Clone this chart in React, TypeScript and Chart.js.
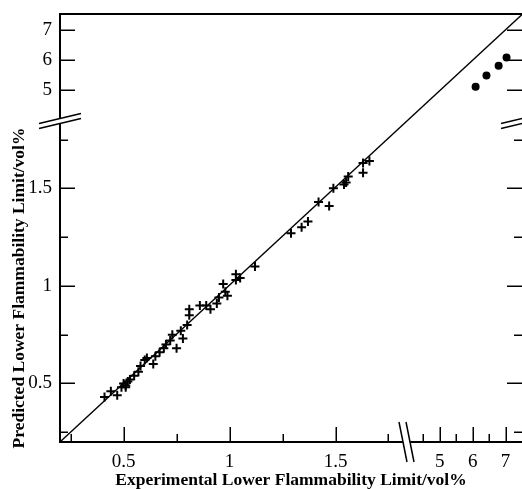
import React, { useEffect, useRef } from 'react';
import { Chart, registerables, LinearScale } from 'chart.js';

Chart.register(...registerables);

// ---- data ----
const expLow = [
  0.41, 0.44, 0.47, 0.5, 0.51, 0.52, 0.49, 0.51, 0.53, 0.55, 0.57, 0.58, 0.6, 0.61,
  0.64, 0.65, 0.67, 0.69, 0.7, 0.72, 0.73, 0.75, 0.77, 0.78, 0.8, 0.81, 0.81, 0.86,
  0.89, 0.91, 0.94, 0.95, 0.99, 0.97, 0.98, 1.03, 1.03, 1.05, 1.12, 1.29, 1.34, 1.37,
  1.42, 1.47, 1.49, 1.54, 1.55, 1.56, 1.63, 1.63, 1.66,
];
const predLow = [
  0.43, 0.46, 0.44, 0.5, 0.48, 0.51, 0.48, 0.49, 0.52, 0.54, 0.56, 0.59, 0.62, 0.63,
  0.6, 0.64, 0.66, 0.68, 0.7, 0.72, 0.75, 0.68, 0.77, 0.73, 0.8, 0.85, 0.88, 0.9,
  0.9, 0.88, 0.91, 0.94, 0.95, 1.01, 0.97, 1.03, 1.06, 1.04, 1.1, 1.27, 1.3, 1.33,
  1.43, 1.41, 1.5, 1.52, 1.53, 1.56, 1.58, 1.63, 1.64,
];
const expHigh = [6.09, 6.42, 6.79, 7.03];
const predHigh = [5.1, 5.47, 5.8, 6.07];
const parityLine = [0.2, 7.5];

const xMajorTicks = [0.5, 1, 1.5, 5, 6, 7];
const xMinorTicks = [0.25, 0.75, 1.25, 1.75, 4.5, 5.5, 6.5];
const yMajorTicks = [0.5, 1, 1.5, 5, 6, 7];
const yMinorTicks = [0.25, 0.75, 1.25, 1.75];

const xTitle = 'Experimental Lower Flammability Limit/vol%';
const yTitle = 'Predicted Lower Flammability Limit/vol%';

// broken-axis segments: [lo, b1] on the first part, [b2, hi] on the second part
const BREAKS: Record<string, { lo: number; b1: number; b2: number; hi: number; split: number }> = {
  x: { lo: 0.2, b1: 1.835, b2: 3.99, hi: 7.5, split: 0.75 },
  y: { lo: 0.2, b1: 1.845, b2: 3.96, hi: 7.52, split: 0.75 },
};

class BrokenScale extends LinearScale {
  static id = 'broken';
  static defaults = LinearScale.defaults;
  getPixelForValue(value: any) {
    const b = BREAKS[(this as any).id];
    if (value === null || value === undefined || isNaN(value)) return NaN;
    let f: number;
    if (value <= b.b1) f = ((value - b.lo) / (b.b1 - b.lo)) * b.split;
    else if (value >= b.b2) f = b.split + ((value - b.b2) / (b.hi - b.b2)) * (1 - b.split);
    else f = b.split;
    return this.getPixelForDecimal(f);
  }
  getValueForPixel(pixel: number) {
    const b = BREAKS[(this as any).id];
    const f = this.getDecimalForPixel(pixel);
    if (f <= b.split) return b.lo + (f / b.split) * (b.b1 - b.lo);
    return b.b2 + ((f - b.split) / (1 - b.split)) * (b.hi - b.b2);
  }
}
Chart.register(BrokenScale as any);

const FONT = '"Liberation Serif", "Times New Roman", serif';

const decorPlugin = {
  id: 'decor',
  afterDraw(chart: any) {
    const { ctx, chartArea: ca, scales } = chart;
    const xs = scales.x;
    const ys = scales.y;
    const L = ca.left, R = ca.right, T = ca.top, B = ca.bottom;
    const xb = xs.getPixelForDecimal(BREAKS.x.split);
    const yb = ys.getPixelForDecimal(BREAKS.y.split);
    const line = (x1: number, y1: number, x2: number, y2: number) => {
      ctx.beginPath();
      ctx.moveTo(x1, y1);
      ctx.lineTo(x2, y2);
      ctx.stroke();
    };
    ctx.save();
    ctx.strokeStyle = '#000';
    ctx.lineCap = 'butt';
    ctx.lineWidth = 2;
    // frame
    line(L - 1, T, R, T);
    line(L, T - 1, L, yb - 3);
    line(L, yb + 3, L, B + 1);
    line(L - 1, B, xb - 3.5, B);
    line(xb + 3.5, B, R, B);
    // ticks (inward)
    ctx.lineWidth = 1.5;
    yMajorTicks.forEach((v) => {
      const p = Math.round(ys.getPixelForValue(v)) + 0.25;
      line(L, p, L + 15, p);
      line(R, p, R - 15, p);
    });
    yMinorTicks.forEach((v) => {
      const p = Math.round(ys.getPixelForValue(v)) + 0.25;
      line(L, p, L + 8, p);
      line(R, p, R - 8, p);
    });
    xMajorTicks.forEach((v) => {
      const p = Math.round(xs.getPixelForValue(v)) + 0.25;
      line(p, B, p, B - 15);
    });
    xMinorTicks.forEach((v) => {
      const p = Math.round(xs.getPixelForValue(v)) + 0.25;
      line(p, B, p, B - 8);
    });
    // break marks
    ctx.lineWidth = 1.5;
    [L, R].forEach((cx) => {
      [-2.5, 2.5].forEach((d) => {
        line(cx - 21, yb + d + 5, cx + 21, yb + d - 5);
      });
    });
    [-3.5, 3.5].forEach((d) => {
      line(xb + d - 4, B - 20, xb + d + 4, B + 20);
    });
    // y title
    ctx.fillStyle = '#000';
    ctx.font = `bold 17.5px ${FONT}`;
    ctx.textAlign = 'center';
    ctx.textBaseline = 'middle';
    ctx.translate(19, 288);
    ctx.rotate(-Math.PI / 2);
    ctx.fillText(yTitle, 0, 0);
    ctx.restore();
  },
};

const noPad = (s: any) => {
  s.paddingTop = 0;
  s.paddingBottom = 0;
  s.paddingLeft = 0;
  s.paddingRight = 0;
};

export default function App() {
  const ref = useRef<HTMLCanvasElement>(null);
  useEffect(() => {
    if (!ref.current) return;
    Chart.defaults.font.family = FONT;
    Chart.defaults.color = '#000';
    const chart = new Chart(ref.current, {
      type: 'scatter',
      data: {
        datasets: [
          {
            type: 'line',
            data: parityLine.map((v) => ({ x: v, y: v })),
            borderColor: '#000',
            borderWidth: 1.3,
            pointRadius: 0,
            fill: false,
            tension: 0,
          } as any,
          {
            data: expLow.map((v, i) => ({ x: v, y: predLow[i] })),
            pointStyle: 'cross',
            pointRadius: 4.5,
            borderColor: '#000',
            borderWidth: 2,
          },
          {
            data: expHigh.map((v, i) => ({ x: v, y: predHigh[i] })),
            pointStyle: 'circle',
            pointRadius: 4,
            backgroundColor: '#000',
            borderColor: '#000',
            borderWidth: 0,
          },
        ],
      },
      options: {
        responsive: false,
        animation: false,
        events: [],
        layout: { autoPadding: false, padding: { top: 14, right: 0, left: 0, bottom: 0 } },
        plugins: { legend: { display: false }, tooltip: { enabled: false } },
        scales: {
          x: {
            type: 'broken' as any,
            min: BREAKS.x.lo,
            max: BREAKS.x.hi,
            grid: { display: false, drawTicks: false, tickLength: 0 },
            border: { display: false },
            ticks: {
              autoSkip: false,
              maxRotation: 0,
              padding: 9,
              font: { size: 19, family: FONT },
              color: '#000',
              callback: (v: any) => String(v),
            },
            afterBuildTicks: (s: any) => {
              s.ticks = xMajorTicks.map((v) => ({ value: v }));
            },
            afterFit: (s: any) => {
              s.height = 47;
              noPad(s);
            },
            title: {
              display: true,
              text: xTitle,
              font: { size: 17.5, weight: 'bold', family: FONT, lineHeight: 1 },
              padding: { top: 0, bottom: 0 },
              color: '#000',
            },
          },
          y: {
            type: 'broken' as any,
            min: BREAKS.y.lo,
            max: BREAKS.y.hi,
            grid: { display: false, drawTicks: false, tickLength: 0 },
            border: { display: false },
            ticks: {
              autoSkip: false,
              padding: 8,
              font: { size: 19, family: FONT },
              color: '#000',
              callback: (v: any) => String(v),
            },
            afterBuildTicks: (s: any) => {
              s.ticks = yMajorTicks.map((v) => ({ value: v }));
            },
            afterFit: (s: any) => {
              s.width = 60;
              noPad(s);
            },
          },
        },
      } as any,
      plugins: [decorPlugin],
    });
    return () => chart.destroy();
  }, []);
  return (
    <div style={{ position: 'absolute', left: 0, top: 0, width: 522, height: 489, background: '#fff' }}>
      <canvas ref={ref} width={522} height={489} style={{ display: 'block' }} />
    </div>
  );
}
